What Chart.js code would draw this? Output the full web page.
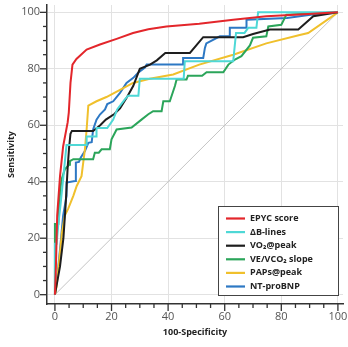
<!DOCTYPE html>
<html lang="en">
<head>
    <meta charset="UTF-8">
    <title>ROC curves</title>
    <script src="https://cdn.jsdelivr.net/npm/chart.js"></script>
    <style>
        body { margin: 0; background: #fff; }
        canvas { display: block; }
    </style>
</head>
<body>
    <canvas id="rocChart" width="348" height="347"></canvas>

    <script>
        // curve points: [100-specificity, sensitivity]
        const epycScore = [[0,0],[0.35,10],[0.8,28],[1.8,42],[2.9,52.5],[4.5,61],[4.9,64.5],[5.5,75],[6.2,81.5],[7.6,83.5],[11.2,86.8],[15.9,88.6],[21.8,90.6],[27.6,92.7],[33,94],[39.4,95],[51,96],[63,97.4],[74.7,98.6],[86.5,99.2],[100,100]];
        const bLines = [[0,0],[0,18],[0.6,18],[1.2,25],[2,32],[3,42],[3.8,50],[4.1,53],[11.2,53],[11.2,56],[14.7,56],[14.7,59],[18.5,59],[20.6,62],[22,65.6],[24.7,69.2],[25.9,70.5],[29.5,70.5],[30,76.5],[45.5,76.5],[45.9,82.7],[63,82.7],[64,92.7],[67,92.7],[68.3,94.5],[71.2,94.5],[71.8,100],[100,100]];
        const vo2Peak = [[0,0],[1.8,10],[3,20],[3.8,32],[4.5,45],[5,52],[5.5,57],[6,58],[13.5,58],[16,60],[18,62],[21,64],[23,66],[25.5,70],[27.7,74],[30,80],[33.6,81.5],[36,83],[39,85.6],[47.7,85.6],[52.4,91.2],[66.5,91.2],[70,92.3],[76,93.9],[86,93.9],[91.3,98.6],[100,100]];
        const veVco2Slope = [[0,0],[0,25],[1.2,25],[1.5,32],[2,38],[2.4,41],[3.5,44.4],[5,46],[5.3,47.3],[6.5,48],[13.5,48],[14.1,50.3],[15.5,50.3],[16.5,51.5],[19.4,51.5],[20,55],[21.8,58.5],[27.1,59.2],[30.6,62],[33,63.9],[34.7,65],[37.7,65],[38.3,68.5],[40.6,68.5],[42.4,73.9],[43,76.2],[46.5,76.2],[47,77.5],[52,77.5],[53.6,78.8],[59.5,78.8],[61.3,81.5],[63.6,83.3],[65.9,84.5],[68.9,88.3],[70,91],[74.7,91.5],[75.4,95],[80,95.6],[81.8,99.2],[100,100]];
        const papsPeak = [[0,0],[0.6,3],[1.5,12],[2.5,22],[3.5,28],[4.7,30.5],[6.5,35],[7.7,38.5],[9.4,42],[10,46.8],[10.6,51.5],[11.2,58.5],[11.8,67],[14.7,68.5],[18.2,70],[23,72.5],[27.6,75],[33.5,76.5],[41.8,78],[51,81.5],[63,85],[74.7,89],[86.5,92],[89.5,92.7],[100,100]];
        const ntProBnp = [[0,0],[1.2,10],[2,18],[2.9,28],[4.1,35],[4.1,39.7],[7.1,40.3],[7.4,46.8],[8.5,47],[9.1,48.5],[10.6,50.9],[11.8,53.8],[13,54],[13.5,58.5],[14.7,62],[15.9,63.8],[17.7,65.6],[18.5,67.5],[20.6,68.5],[23,71.5],[25.3,75],[27.7,76.8],[29.4,78.6],[31.8,80.4],[32.4,81.5],[45.3,81.5],[45.3,83.8],[52.4,83.8],[53,87.4],[53.5,89],[58.3,91.5],[61.8,91.5],[61.8,94.5],[67.7,94.5],[67.7,97.4],[82,98],[91,99.2],[100,100]];
        const refLine = [[0,0],[100,100]];

        const seriesLabels = ['EPYC score', '\u0394B-lines', 'VO\u2082@peak', 'VE/VCO\u2082 slope', 'PAPs@peak', 'NT-proBNP'];
        const seriesColors = ['#e3262b', '#4ed8d6', '#1e1e1e', '#2ba55a', '#f0c02c', '#2d78c4'];
        const seriesData = [epycScore, bLines, vo2Peak, veVco2Slope, papsPeak, ntProBnp];
        const tickValues = [0,5,10,15,20,25,30,35,40,45,50,55,60,65,70,75,80,85,90,95,100];

        const toPoints = arr => arr.map(p => ({ x: p[0], y: p[1] }));

        const datasets = seriesData.map((d, i) => ({
            label: seriesLabels[i],
            data: toPoints(d),
            borderColor: seriesColors[i],
            borderWidth: 2,
            showLine: true,
            pointRadius: 0,
            tension: 0,
            fill: false
        }));
        datasets.push({
            label: 'reference',
            data: toPoints(refLine),
            borderColor: '#c4c4c4',
            borderWidth: 1,
            showLine: true,
            pointRadius: 0,
            fill: false
        });

        // tick marks drawn on the axis lines (long at 20s, short at 5s)
        const tickMarks = {
            id: 'tickMarks',
            afterDraw(chart) {
                const ctx = chart.ctx;
                const xs = chart.scales.x, ys = chart.scales.y;
                const left = chart.chartArea.left, bottom = chart.chartArea.bottom;
                ctx.save();
                ctx.strokeStyle = '#333';
                ctx.lineWidth = 1.3;
                tickValues.forEach(v => {
                    const len = v % 20 === 0 ? 7 : 4;
                    const px = xs.getPixelForValue(v);
                    ctx.beginPath();
                    ctx.moveTo(px, bottom);
                    ctx.lineTo(px, bottom + len);
                    ctx.stroke();
                    const py = ys.getPixelForValue(v);
                    ctx.beginPath();
                    ctx.moveTo(left, py);
                    ctx.lineTo(left - len, py);
                    ctx.stroke();
                });
                ctx.restore();
            }
        };

        // boxed legend inside the plot, lower right
        const boxLegend = {
            id: 'boxLegend',
            afterDatasetsDraw(chart) {
                const ctx = chart.ctx;
                const bx = 218, by = 206, bw = 120, bh = 89;
                ctx.save();
                ctx.fillStyle = '#fff';
                ctx.fillRect(bx, by, bw, bh);
                ctx.strokeStyle = '#444';
                ctx.lineWidth = 1;
                ctx.strokeRect(bx + 0.5, by + 0.5, bw, bh);
                ctx.font = 'bold 9px "Open Sans"';
                ctx.textBaseline = 'middle';
                seriesLabels.forEach((lab, i) => {
                    const y = by + 12.5 + i * 13.6;
                    ctx.strokeStyle = seriesColors[i];
                    ctx.lineWidth = 2.2;
                    ctx.beginPath();
                    ctx.moveTo(bx + 8, y);
                    ctx.lineTo(bx + 27, y);
                    ctx.stroke();
                    ctx.fillStyle = '#222';
                    ctx.fillText(lab, bx + 32, y);
                });
                ctx.restore();
            }
        };

        const axisTicks = scale => {
            scale.ticks = tickValues.map(v => ({ value: v }));
        };
        const majorGrid = c => (c.tick && c.tick.value % 20 === 0) ? '#e2e2e2' : 'rgba(0,0,0,0)';

        new Chart(document.getElementById('rocChart').getContext('2d'), {
            type: 'scatter',
            data: { datasets: datasets },
            plugins: [tickMarks, boxLegend],
            options: {
                responsive: false,
                animation: false,
                layout: { padding: { top: 5, right: 5, left: 0, bottom: 0 } },
                plugins: {
                    legend: { display: false },
                    tooltip: { enabled: false }
                },
                scales: {
                    x: {
                        type: 'linear',
                        min: -2.8,
                        max: 101.8,
                        afterBuildTicks: axisTicks,
                        afterFit: s => { s.height = 43; s.paddingLeft = 0; s.paddingRight = 0; },
                        grid: { color: majorGrid, lineWidth: 1, drawTicks: false },
                        border: { display: true, color: '#333', width: 1.5 },
                        ticks: {
                            autoSkip: false,
                            maxRotation: 0,
                            padding: 6,
                            color: '#555',
                            font: { family: 'Open Sans', size: 11 },
                            callback: v => v % 20 === 0 ? String(v) : ''
                        },
                        title: {
                            display: true,
                            text: '100-Specificity',
                            color: '#222',
                            font: { family: 'Open Sans', size: 9, weight: 'bold' },
                            padding: { top: 0, bottom: 9 }
                        }
                    },
                    y: {
                        type: 'linear',
                        min: -3.3,
                        max: 102.6,
                        afterBuildTicks: axisTicks,
                        afterFit: s => { s.width = 47; s.paddingTop = 0; s.paddingBottom = 0; },
                        grid: { color: majorGrid, lineWidth: 1, drawTicks: false },
                        border: { display: true, color: '#333', width: 1.5 },
                        ticks: {
                            autoSkip: false,
                            padding: 7,
                            color: '#555',
                            font: { family: 'Open Sans', size: 11 },
                            callback: v => v % 20 === 0 ? String(v) : ''
                        },
                        title: {
                            display: true,
                            text: 'Sensitivity',
                            color: '#222',
                            font: { family: 'Open Sans', size: 9, weight: 'bold' },
                            padding: { top: 6, bottom: 0 }
                        }
                    }
                }
            }
        });
    </script>
</body>
</html>
